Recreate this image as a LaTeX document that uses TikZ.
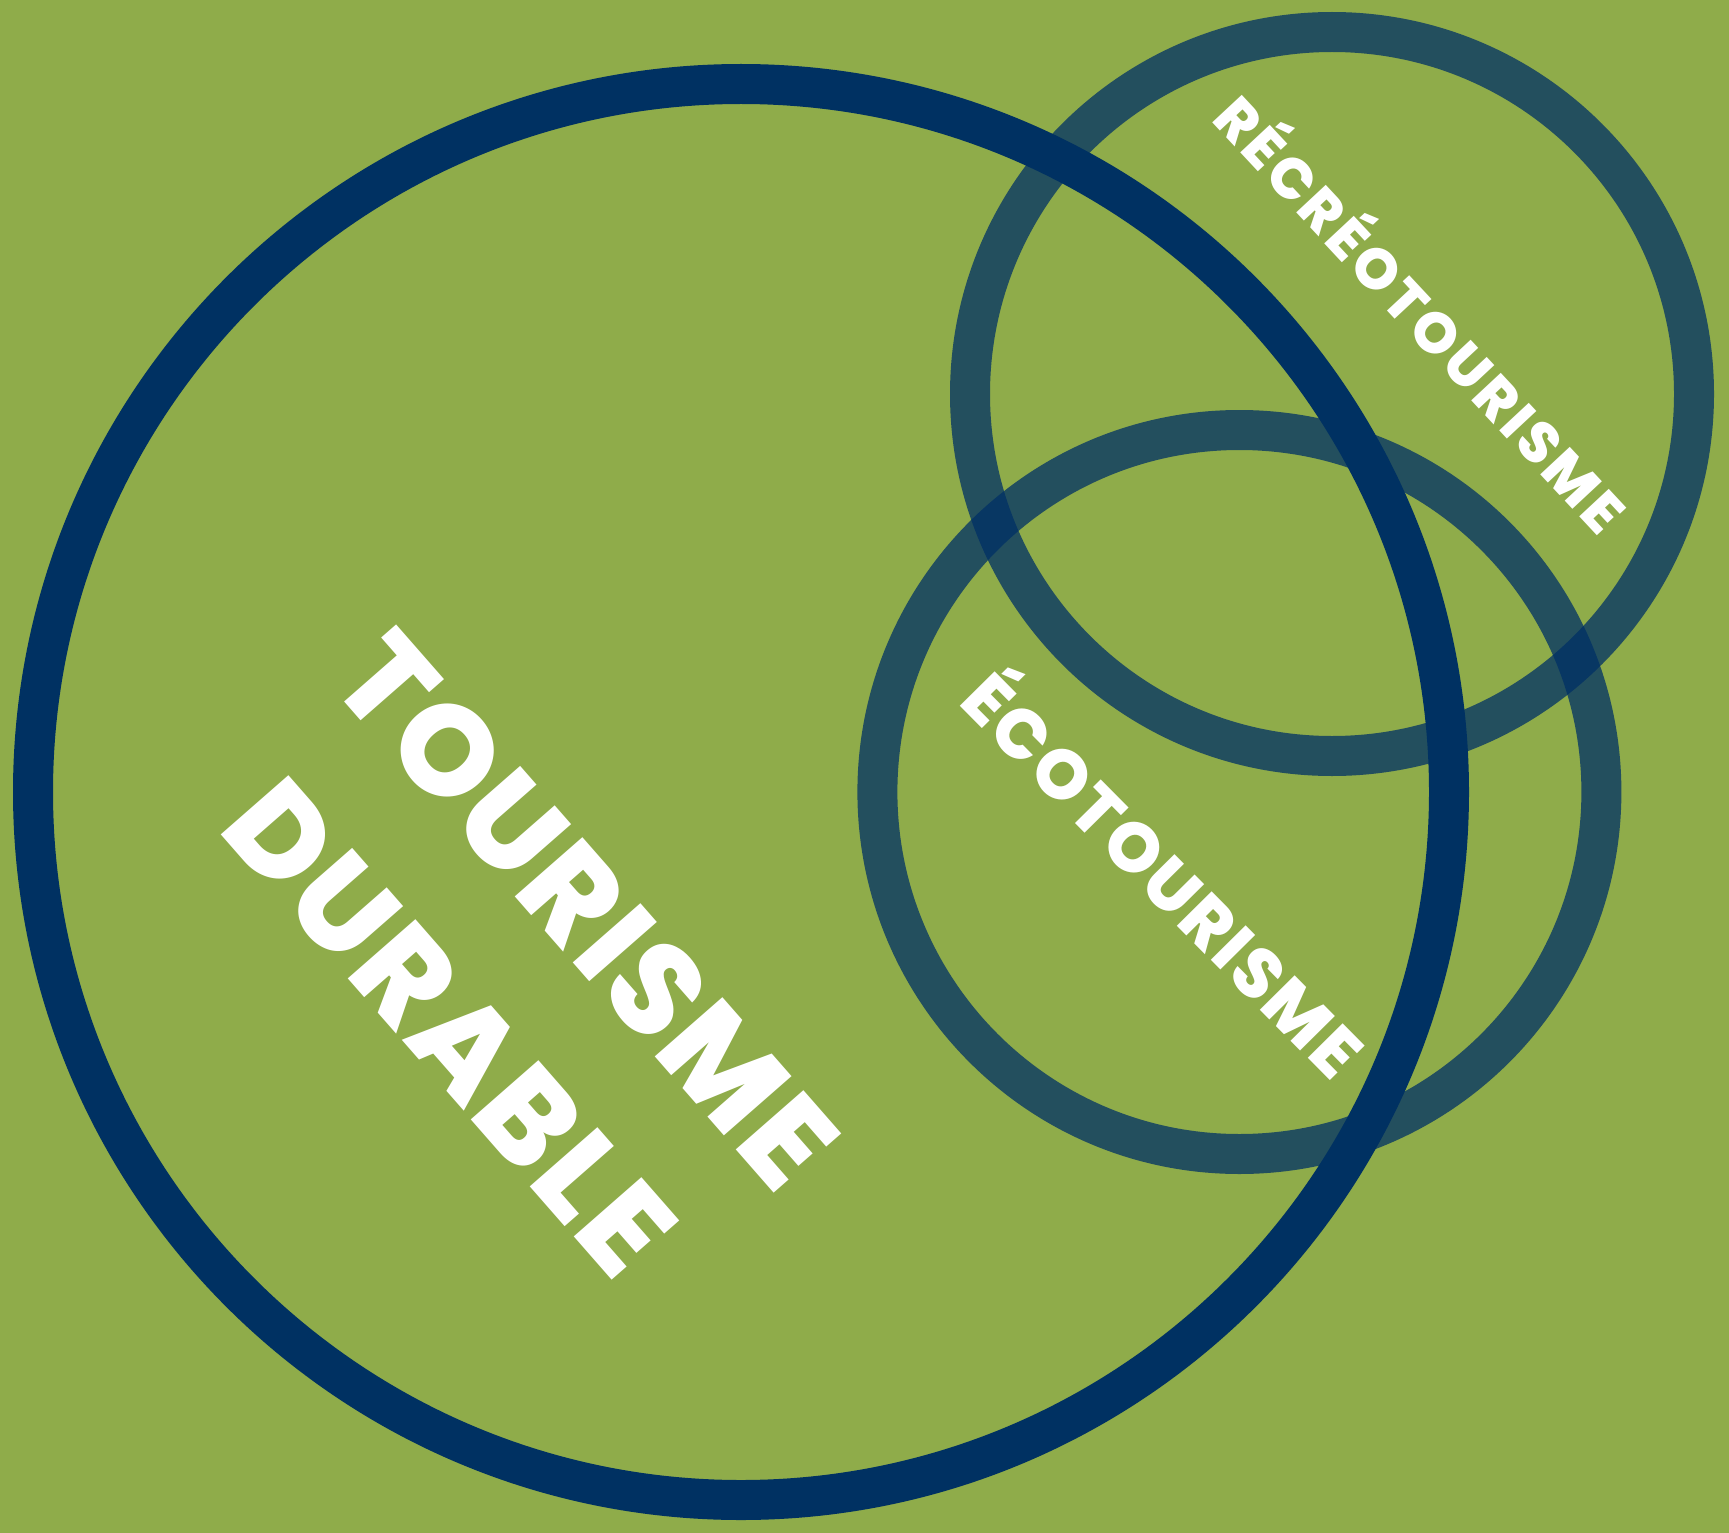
\documentclass[tikz,border=0pt]{standalone}
\usepackage{fontspec}
\setmainfont{Poppins}[BoldFont={* ExtraBold}]
\usetikzlibrary{positioning}

\definecolor{fond}{HTML}{8FAC4A}
\definecolor{marine}{HTML}{003162}
\definecolor{sarcelle}{HTML}{003065}

\tikzset{
  anneau/.style={draw=sarcelle, draw opacity=0.75, line width=0.40cm},
  grandanneau/.style={draw=marine, line width=0.40cm},
  mot/.style={text=white, inner sep=0pt, anchor=base west},
  grandmot/.style={mot, font=\bfseries\fontsize{36.3}{36.3}\selectfont\addfontfeatures{LetterSpace=#1}},
  petitmot/.style={mot, font=\bfseries\fontsize{16.3}{16.3}\selectfont\addfontfeatures{LetterSpace=6.2}},
  moyenmot/.style={mot, font=\bfseries\fontsize{19.8}{19.8}\selectfont\addfontfeatures{LetterSpace=4}},
}

\begin{document}
\begin{tikzpicture}
  \useasboundingbox (0,0) rectangle (17.29,-15.33);
  \fill[fond] (0,0) rectangle (17.29,-15.33);

  % les deux petits cercles
  \draw[anneau] (13.32,-3.94) circle (3.62);
  \draw[anneau] (12.394,-7.92) circle (3.62);
  % le grand cercle
  \draw[grandanneau] (7.41,-7.92) circle (7.08);

  \draw (3.27,-6.82) node[grandmot=2.6, rotate=-48.8] (tourisme) {TOURISME};
  \draw (2.165,-8.285) node[grandmot=2.8, rotate=-48.8] (durable) {DURABLE};
  \draw (12.10,-1.20) node[petitmot, rotate=-47] (recreo) {RÉCRÉOTOURISME};
  \draw (9.567,-7.033) node[moyenmot, rotate=-45.3] (eco) {ÉCOTOURISME};

\end{tikzpicture}
\end{document}
